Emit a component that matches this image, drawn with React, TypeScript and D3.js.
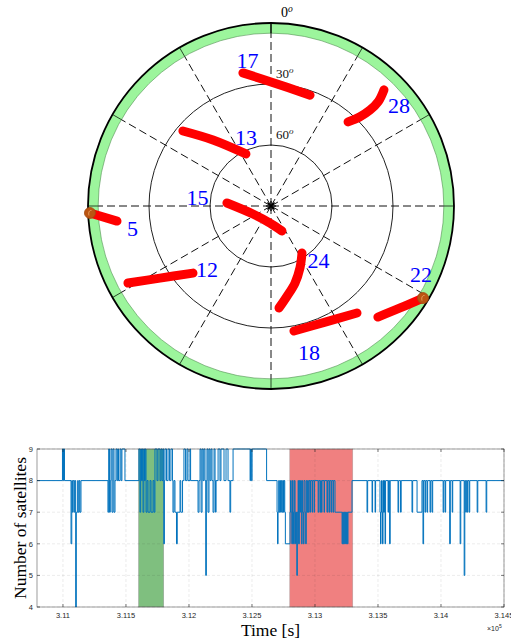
import React from 'react';
import * as d3 from 'd3';

// ---------- Sky plot data ----------
const satIds = [17, 28, 13, 15, 5, 12, 24, 22, 18];
const trackAz = [
  [348.1, 0, 19.4],
  [44.2, 45.8, 45.9, 44.9, 42.5],
  [310.4, 318.7, 334.3],
  [273.9, 246.0, 183.4, 156.3],
  [267.8, 264.4],
  [241.7, 237.0, 229.3],
  [146.6, 154.9, 162.7, 170.2, 175.5],
  [136.1, 128.3, 121.2],
  [169.6, 155.0, 141.2],
];
const trackEl = [
  [23.1, 29.0, 32.2],
  [10.3, 16.4, 22.2, 28.0, 33.9],
  [33.1, 46.8, 61.6],
  [68.3, 80.3, 81.6, 76.6],
  [0.9, 13.9],
  [10.1, 24.9, 39.4],
  [62.3, 56.4, 50.3, 44.7, 39.7],
  [14.2, 9.1, 2.6],
  [27.5, 27.0, 22.5],
];
const labelAz = [350.8, 51.9, 340.0, 276.6, 260.6, 225, 138.7, 114.4, 165.4];
const labelEl = [17.5, 10.0, 54.1, 53.6, 21.0, 45.5, 54.6, 9.0, 15.8];
const maskedAz = [267.8, 121.2];
const maskedEl = [0.9, 2.6];
const elevationRings = [30, 60];
const elevationMask = 5;
const spokeAz = d3.range(0, 360, 30);

// ---------- Satellite count data ----------
const stepTimes = [
  310794, 310996, 311002, 311005, 311012, 311064, 311070, 311075, 311081, 311090,
  311095, 311101, 311106, 311117, 311121, 311129, 311135, 311143, 311357, 311363,
  311369, 311376, 311381, 311389, 311397, 311405, 311413, 311421, 311429, 311435,
  311441, 311453, 311461, 311468, 311492, 311603, 311611, 311617, 311623, 311630,
  311635, 311642, 311647, 311653, 311659, 311667, 311675, 311691, 311699, 311715,
  311723, 311730, 311746, 311754, 311770, 311778, 311786, 311794, 311800, 311805,
  311810, 311822, 311834, 311846, 311857, 311869, 311873, 311881, 311889, 311901,
  311907, 311929, 311935, 311949, 311960, 311972, 311984, 311992, 312008, 312013,
  312072, 312080, 312088, 312096, 312104, 312112, 312119, 312127, 312133, 312138,
  312143, 312151, 312159, 312167, 312175, 312183, 312191, 312199, 312207, 312211,
  312215, 312231, 312246, 312254, 312278, 312294, 312310, 312325, 312331, 312350,
  312485, 312489, 312495, 312501, 312616, 312699, 312703, 312707, 312712, 312717,
  312723, 312727, 312733, 312738, 312744, 312750, 312754, 312760, 312765, 312802,
  312806, 312811, 312816, 312821, 312826, 312830, 312836, 312842, 312846, 312851,
  312856, 312860, 312866, 312870, 312876, 312882, 312886, 312892, 312898, 312902,
  312908, 312913, 312921, 312926, 312931, 312937, 312942, 312947, 312953, 312961,
  312965, 312977, 312981, 312993, 312997, 313025, 313030, 313040, 313045, 313051,
  313056, 313072, 313076, 313095, 313100, 313111, 313116, 313127, 313132, 313143,
  313148, 313159, 313215, 313220, 313225, 313231, 313236, 313241, 313246, 313251,
  313257, 313262, 313294, 313413, 313418, 313453, 313457, 313477, 313481, 313516,
  313520, 313524, 313528, 313532, 313536, 313540, 313544, 313548, 313552, 313556,
  313560, 313580, 313584, 313592, 313597, 313659, 313664, 313679, 313684, 313770,
  313775, 313810, 313849, 313857, 313862, 313873, 313878, 313889, 313894, 313913,
  313918, 313929, 313934, 314017, 314022, 314033, 314037, 314069, 314074, 314089,
  314093, 314152, 314157, 314184, 314189, 314196, 314201, 314208, 314212, 314223,
  314228, 314287, 314292, 314358, 314363, 314500,
];
const stepCounts = [
  8, 9, 8, 9, 8, 6, 8, 7, 8, 7,
  8, 4, 7, 8, 7, 8, 7, 8, 7, 9,
  7, 8, 9, 7, 9, 7, 8, 9, 8, 9,
  8, 9, 8, 9, 8, 9, 7, 9, 8, 9,
  7, 9, 8, 9, 7, 8, 7, 8, 7, 8,
  7, 9, 8, 9, 8, 9, 8, 9, 6, 8,
  9, 8, 9, 8, 9, 8, 7, 8, 7, 6,
  7, 8, 7, 8, 9, 8, 9, 8, 9, 8,
  7, 8, 9, 7, 9, 8, 9, 8, 5, 8,
  9, 7, 9, 8, 9, 8, 7, 9, 8, 7,
  8, 9, 8, 9, 8, 9, 8, 7, 8, 9,
  8, 9, 8, 9, 8, 7, 6, 7, 8, 7,
  8, 7, 8, 7, 8, 7, 8, 7, 6, 7,
  8, 7, 6, 8, 7, 6, 8, 7, 6, 7,
  5, 7, 8, 6, 8, 7, 8, 6, 8, 7,
  6, 8, 7, 6, 8, 7, 8, 7, 8, 7,
  8, 7, 8, 7, 8, 7, 8, 7, 8, 7,
  8, 7, 8, 7, 8, 7, 8, 7, 8, 7,
  8, 7, 6, 7, 6, 7, 6, 7, 6, 7,
  6, 7, 8, 7, 8, 7, 8, 7, 8, 7,
  6, 7, 8, 7, 6, 8, 7, 8, 7, 6,
  8, 7, 8, 6, 8, 7, 8, 7, 8, 7,
  8, 7, 8, 6, 8, 7, 8, 7, 8, 7,
  8, 7, 8, 7, 8, 7, 8, 6, 8, 7,
  8, 6, 8, 5, 8, 7, 8, 7, 8, 7,
  8, 7, 8, 7, 8, 8,
];
const greenWindow = [311600, 311800];
const redWindow = [312800, 313300];
const xTicks = [311000, 311500, 312000, 312500, 313000, 313500, 314000, 314500];
const xTickLabels = ['3.11', '3.115', '3.12', '3.125', '3.13', '3.135', '3.14', '3.145'];
const yTicks = [4, 5, 6, 7, 8, 9];

// ---------- Layout ----------
const W = 511;
const H = 640;
const cx = 271;
const cy = 206;
const R = 183;
const serif = '"Liberation Serif", "Times New Roman", serif';
const sans = '"Liberation Sans", Arial, Helvetica, sans-serif';

const plot = { left: 37, right: 504, top: 449, bottom: 607 };

export default function App() {
  const rScale = d3.scaleLinear().domain([90, 0]).range([0, R]);
  const toXY = (az: number, el: number): [number, number] => {
    const a = (az * Math.PI) / 180;
    const r = rScale(el);
    return [cx + r * Math.sin(a), cy - r * Math.cos(a)];
  };
  const trackLine = d3
    .line<[number, number]>()
    .x((d) => d[0])
    .y((d) => d[1])
    .curve(d3.curveCatmullRom.alpha(0.5));

  const rMask = rScale(elevationMask);
  const bandArc = d3.arc()({
    innerRadius: rMask,
    outerRadius: R,
    startAngle: 0,
    endAngle: 2 * Math.PI,
  } as any) as string;

  const x = d3.scaleLinear().domain([310794, 314500]).range([plot.left, plot.right]);
  const y = d3.scaleLinear().domain([4, 9]).range([plot.bottom, plot.top]);
  const stepData: [number, number][] = stepTimes.map((t, i) => [t, stepCounts[i]]);
  const stepLine = d3
    .line<[number, number]>()
    .x((d) => x(d[0]))
    .y((d) => y(d[1]))
    .curve(d3.curveStepAfter);

  const axisColor = '#262626';

  return (
    <svg
      width={W}
      height={H}
      style={{ position: 'absolute', left: 0, top: 0, background: '#fff' }}
    >
      {/* ---------- Sky plot ---------- */}
      <g>
        <path d={bandArc} transform={`translate(${cx},${cy})`} fill="#9cf59c" />
        <circle cx={cx} cy={cy} r={rMask} fill="none" stroke="#4f8f4f" strokeWidth={0.6} />
        {elevationRings.map((e) => (
          <circle
            key={e}
            cx={cx}
            cy={cy}
            r={rScale(e)}
            fill="none"
            stroke="#222"
            strokeWidth={1}
          />
        ))}
        {spokeAz.map((az) => {
          const [x1, y1] = toXY(az, 90);
          const [x2, y2] = toXY(az, elevationMask);
          return (
            <line
              key={'s' + az}
              x1={x1}
              y1={y1}
              x2={x2}
              y2={y2}
              stroke="#111"
              strokeWidth={1}
              strokeDasharray="8,4"
            />
          );
        })}
        {spokeAz.map((az) => {
          const [x1, y1] = toXY(az, elevationMask);
          const [x2, y2] = toXY(az, 0);
          return (
            <line
              key={'t' + az}
              x1={x1}
              y1={y1}
              x2={x2}
              y2={y2}
              stroke={az === 0 ? '#000' : '#2a4a2a'}
              strokeWidth={az === 0 ? 1.5 : 1}
            />
          );
        })}
        <circle cx={cx} cy={cy} r={R} fill="none" stroke="#000" strokeWidth={1.8} />

        {/* ring labels */}
        <text x={cx + 10} y={cy - R - 6} fontFamily={serif} fontSize={14} fill="#000">
          0<tspan fontStyle="italic" fontSize={9.5} dy={-5}>o</tspan>
        </text>
        {elevationRings.map((e) => (
          <text
            key={'l' + e}
            x={cx + 5}
            y={cy - rScale(e) - 6}
            fontFamily={serif}
            fontSize={13}
            fill="#111"
          >
            {e}
            <tspan fontStyle="italic" fontSize={9} dy={-5}>o</tspan>
          </text>
        ))}

        {/* satellite tracks */}
        {satIds.map((id, i) => {
          const pts = trackAz[i].map((az, j) => toXY(az, trackEl[i][j]));
          return (
            <path
              key={'trk' + id}
              d={trackLine(pts) as string}
              fill="none"
              stroke="#ff0000"
              strokeWidth={9}
              strokeLinecap="round"
              strokeLinejoin="round"
            />
          );
        })}
        {maskedAz.map((az, i) => {
          const [px, py] = toXY(az, maskedEl[i]);
          return (
            <g key={'m' + i}>
              <circle cx={px} cy={py} r={5.5} fill="#bb5512" stroke="#a34a10" strokeWidth={0.8} />
              <path
                d={`M${px - 1},${py + 2.5} C${px - 2},${py - 1} ${px},${py - 3} ${px + 1.5},${py - 2.5}`}
                fill="none"
                stroke="#f0b070"
                strokeWidth={0.8}
              />
            </g>
          );
        })}
        {satIds.map((id, i) => {
          const [px, py] = toXY(labelAz[i], labelEl[i]);
          return (
            <text
              key={'lab' + id}
              x={px}
              y={py}
              textAnchor="middle"
              dominantBaseline="central"
              fontFamily={serif}
              fontSize={22}
              fill="#0000ff"
            >
              {id}
            </text>
          );
        })}
        {/* centre asterisk */}
        {[0, 45, 90, 135].map((a) => {
          const rad = (a * Math.PI) / 180;
          const L = 5;
          return (
            <line
              key={'c' + a}
              x1={cx - L * Math.cos(rad)}
              y1={cy - L * Math.sin(rad)}
              x2={cx + L * Math.cos(rad)}
              y2={cy + L * Math.sin(rad)}
              stroke="#000"
              strokeWidth={1.3}
            />
          );
        })}
      </g>

      {/* ---------- Satellite count plot ---------- */}
      <g>
        <rect
          x={x(greenWindow[0])}
          y={plot.top}
          width={x(greenWindow[1]) - x(greenWindow[0])}
          height={plot.bottom - plot.top}
          fill="#7fbf7f"
          stroke="#9a9a9a"
          strokeWidth={0.5}
        />
        <rect
          x={x(redWindow[0])}
          y={plot.top}
          width={x(redWindow[1]) - x(redWindow[0])}
          height={plot.bottom - plot.top}
          fill="#f08080"
          stroke="#b0a0a0"
          strokeWidth={0.5}
        />
        {xTicks.map((t) => (
          <line
            key={'gx' + t}
            x1={x(t)}
            x2={x(t)}
            y1={plot.top}
            y2={plot.bottom}
            stroke={axisColor}
            strokeOpacity={0.15}
            strokeDasharray="3,2"
            strokeWidth={0.6}
          />
        ))}
        {yTicks.map((v) => (
          <line
            key={'gy' + v}
            x1={plot.left}
            x2={plot.right}
            y1={y(v)}
            y2={y(v)}
            stroke={axisColor}
            strokeOpacity={0.15}
            strokeDasharray="3,2"
            strokeWidth={0.6}
          />
        ))}
        <path d={stepLine(stepData) as string} fill="none" stroke="#0072BD" strokeWidth={1} />
        <rect
          x={plot.left}
          y={plot.top}
          width={plot.right - plot.left}
          height={plot.bottom - plot.top}
          fill="none"
          stroke={axisColor}
          strokeOpacity={0.75}
          strokeWidth={0.6}
        />
        {xTicks.map((t, i) => (
          <g key={'xt' + t}>
            <line x1={x(t)} x2={x(t)} y1={plot.bottom} y2={plot.bottom - 3} stroke={axisColor} strokeWidth={0.6} />
            <line x1={x(t)} x2={x(t)} y1={plot.top} y2={plot.top + 3} stroke={axisColor} strokeWidth={0.6} />
            <text
              x={x(t)}
              y={plot.bottom + 11}
              textAnchor="middle"
              fontFamily={sans}
              fontSize={7.5}
              fill={axisColor}
            >
              {xTickLabels[i]}
            </text>
          </g>
        ))}
        {yTicks.map((v) => (
          <g key={'yt' + v}>
            <line x1={plot.left} x2={plot.left + 3} y1={y(v)} y2={y(v)} stroke={axisColor} strokeWidth={0.6} />
            <line x1={plot.right} x2={plot.right - 3} y1={y(v)} y2={y(v)} stroke={axisColor} strokeWidth={0.6} />
            <text
              x={plot.left - 4}
              y={y(v) + 2.7}
              textAnchor="end"
              fontFamily={sans}
              fontSize={7.5}
              fill={axisColor}
            >
              {v}
            </text>
          </g>
        ))}
        <text x={plot.right - 17} y={plot.bottom + 24} fontFamily={sans} fontSize={7} fill={axisColor}>
          ×10<tspan fontSize={5} dy={-3}>5</tspan>
        </text>
        <text
          x={(plot.left + plot.right) / 2}
          y={636}
          textAnchor="middle"
          fontFamily={serif}
          fontSize={17.5}
          fill="#000"
        >
          Time [s]
        </text>
        <text
          transform={`translate(26,${(plot.top + plot.bottom) / 2}) rotate(-90)`}
          textAnchor="middle"
          fontFamily={serif}
          fontSize={17.5}
          fill="#000"
        >
          Number of satellites
        </text>
      </g>
    </svg>
  );
}
